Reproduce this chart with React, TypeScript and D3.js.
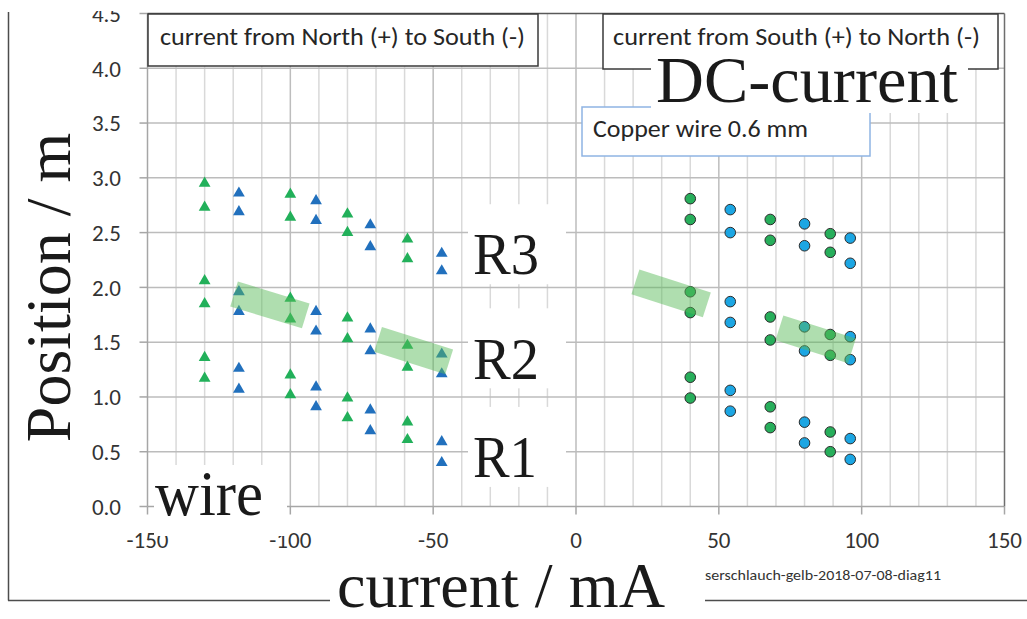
import React from "react";
import * as d3 from "d3";

// ---------- data ----------
const xTicks = [-150, -100, -50, 0, 50, 100, 150];
const yTicks = [0, 0.5, 1, 1.5, 2, 2.5, 3, 3.5, 4, 4.5];

// current from North (+) to South (-): triangles
const nsGreenCurrent = [-130, -100, -80, -59];
const nsGreenPos = [
  [2.95, 2.73, 2.06, 1.85, 1.36, 1.17],
  [2.85, 2.64, 1.9, 1.71, 1.2, 1.02],
  [2.67, 2.5, 1.72, 1.53, 0.99, 0.81],
  [2.44, 2.26, 1.47, 1.27, 0.77, 0.61],
];
const nsBlueCurrent = [-118, -91, -72, -47];
const nsBluePos = [
  [2.86, 2.69, 1.96, 1.78, 1.26, 1.07],
  [2.79, 2.61, 1.78, 1.6, 1.09, 0.91],
  [2.57, 2.37, 1.62, 1.42, 0.88, 0.69],
  [2.31, 2.15, 1.39, 1.21, 0.59, 0.4],
];

// current from South (+) to North (-): circles
const snGreenCurrent = [40, 68, 89];
const snGreenPos = [
  [2.81, 2.62, 1.96, 1.77, 1.18, 0.99],
  [2.62, 2.43, 1.73, 1.52, 0.91, 0.72],
  [2.49, 2.32, 1.57, 1.38, 0.68, 0.5],
];
const snBlueCurrent = [54, 80, 96];
const snBluePos = [
  [2.71, 2.5, 1.87, 1.68, 1.06, 0.87],
  [2.58, 2.38, 1.64, 1.42, 0.77, 0.58],
  [2.45, 2.22, 1.55, 1.34, 0.62, 0.43],
];

// highlighted bands (start / end in data units)
const bandStart = [
  [-119.7, 1.94],
  [-69.3, 1.525],
  [20.8, 2.05],
  [71.2, 1.63],
];
const bandEnd = [
  [-94.6, 1.74],
  [-44.4, 1.32],
  [45.8, 1.84],
  [96.6, 1.42],
];

const ringLabels = ["R3", "R2", "R1"];
const ringLabelPos = [2.12, 1.17, 0.27];

// ---------- helpers ----------
const SANS = "Carlito, Lato, 'Open Sans', sans-serif";
const SERIF = "'Liberation Serif', 'Times New Roman', serif";

function flatten(xs: number[], ys: number[][]) {
  const out: { x: number; y: number }[] = [];
  xs.forEach((x, i) => ys[i].forEach((y) => out.push({ x, y })));
  return out;
}

export default function App() {
  const W = 1027;
  const H = 619;
  const x = d3.scaleLinear().domain([-150, 150]).range([147.5, 1004.5]);
  const y = d3.scaleLinear().domain([0, 4.5]).range([506.5, 13.5]);

  const minorX = d3.range(-140, 150, 10);
  const tri = d3.symbol().type(d3.symbolTriangle).size(60)();

  const nsGreen = flatten(nsGreenCurrent, nsGreenPos);
  const nsBlue = flatten(nsBlueCurrent, nsBluePos);
  const snGreen = flatten(snGreenCurrent, snGreenPos);
  const snBlue = flatten(snBlueCurrent, snBluePos);

  const bands = bandStart.map((s, i) => {
    const e = bandEnd[i];
    const p1 = [x(s[0]), y(s[1])];
    const p2 = [x(e[0]), y(e[1])];
    const dx = p2[0] - p1[0];
    const dy = p2[1] - p1[1];
    const L = Math.hypot(dx, dy);
    const nx = (-dy / L) * 13;
    const ny = (dx / L) * 13;
    return [
      [p1[0] + nx, p1[1] + ny],
      [p2[0] + nx, p2[1] + ny],
      [p2[0] - nx, p2[1] - ny],
      [p1[0] - nx, p1[1] - ny],
    ]
      .map((p) => p.join(","))
      .join(" ");
  });

  const x0 = x(-150);
  const x1 = x(150);
  const yb = y(0);
  const yt = y(4.5);

  return (
    <svg
      width={W}
      height={H}
      style={{ position: "absolute", left: 0, top: 0, background: "#fff" }}
    >
      <rect x={0} y={0} width={W} height={H} fill="#fff" />

      {/* vertical grid */}
      {minorX.map((v) => (
        <line
          key={"vx" + v}
          x1={x(v)}
          x2={x(v)}
          y1={yt}
          y2={yb}
          stroke={v % 50 === 0 ? "#bdbdbd" : "#d9d9d9"}
          strokeWidth={1.5}
        />
      ))}
      {/* horizontal grid */}
      {yTicks
        .filter((v) => v > 0 && v < 4.5)
        .map((v) => (
          <line
            key={"hy" + v}
            x1={x0}
            x2={x1}
            y1={y(v)}
            y2={y(v)}
            stroke="#bcbcbc"
            strokeWidth={1.5}
          />
        ))}

      {/* axes / border */}
      <line x1={x0} x2={x1} y1={yb} y2={yb} stroke="#a6a6a6" strokeWidth={1.5} />
      <line x1={x0} x2={x0} y1={yt} y2={yb} stroke="#a6a6a6" strokeWidth={1.5} />
      <line x1={x0} x2={x1} y1={yt} y2={yt} stroke="#595959" strokeWidth={1.5} />
      <line x1={x1} x2={x1} y1={yt} y2={yb} stroke="#6e6e6e" strokeWidth={1.5} />

      {xTicks.map((v) => (
        <line key={"xt" + v} x1={x(v)} x2={x(v)} y1={yb} y2={yb + 8} stroke="#a6a6a6" strokeWidth={1.5} />
      ))}
      {yTicks.map((v) => (
        <line key={"yt" + v} x1={x0 - 8} x2={x0} y1={y(v)} y2={y(v)} stroke="#a6a6a6" strokeWidth={1.5} />
      ))}

      {/* tick labels */}
      {yTicks.map((v) => (
        <text
          key={"yl" + v}
          x={121}
          y={y(v)}
          dy="0.36em"
          textAnchor="end"
          fontFamily={SANS}
          fontSize={23}
          fill="#333"
        >
          {v.toFixed(1)}
        </text>
      ))}
      {xTicks.map((v) => (
        <text
          key={"xl" + v}
          x={x(v)}
          y={548}
          textAnchor="middle"
          fontFamily={SANS}
          fontSize={23}
          fill="#333"
        >
          {v}
        </text>
      ))}

      {/* markers */}
      {nsBlue.map((d, i) => (
        <path key={"nb" + i} d={tri} transform={`translate(${x(d.x)},${y(d.y)})`} fill="#2170bd" />
      ))}
      {nsGreen.map((d, i) => (
        <path key={"ng" + i} d={tri} transform={`translate(${x(d.x)},${y(d.y)})`} fill="#22b05a" />
      ))}
      {snGreen.map((d, i) => (
        <circle key={"sg" + i} cx={x(d.x)} cy={y(d.y)} r={5.3} fill="#27ae5b" stroke="#2b2b2b" strokeWidth={1} />
      ))}
      {snBlue.map((d, i) => (
        <circle key={"sb" + i} cx={x(d.x)} cy={y(d.y)} r={5.3} fill="#1ca6e3" stroke="#2b2b2b" strokeWidth={1} />
      ))}

      {/* bands */}
      {bands.map((pts, i) => (
        <polygon key={"band" + i} points={pts} fill="rgb(88,186,88)" fillOpacity={0.48} />
      ))}

      {/* boxes */}
      <rect x={148} y={14} width={390} height={52} fill="#fff" stroke="#3a3a3a" strokeWidth={1.5} />
      <text x={160} y={45} fontFamily={SANS} fontSize={25} fill="#262626" textLength={365} lengthAdjust="spacingAndGlyphs">
        current from North (+) to South (-)
      </text>

      <rect x={603} y={14} width={395} height={55} fill="#fff" stroke="#3a3a3a" strokeWidth={1.5} />
      <text x={613} y={45} fontFamily={SANS} fontSize={25} fill="#262626" textLength={367} lengthAdjust="spacingAndGlyphs">
        current from South (+) to North (-)
      </text>

      <rect x={582} y={107} width={288} height={49} fill="#fff" stroke="#8fb4e3" strokeWidth={1.5} />
      <text x={593} y={137} fontFamily={SANS} fontSize={25} fill="#262626" textLength={215} lengthAdjust="spacingAndGlyphs">
        Copper wire 0.6 mm
      </text>

      <rect x={651} y={67} width={317} height={46} fill="#fff" />
      <text x={656} y={101.5} fontFamily={SERIF} fontSize={66} fill="#1a1a1a" textLength={302} lengthAdjust="spacingAndGlyphs">
        DC-current
      </text>

      {/* ring labels */}
      {ringLabels.map((lab, i) => {
        const by = y(ringLabelPos[i]);
        return <rect key={"rb" + lab} x={468} y={by - 70} width={98} height={80} fill="#fff" />;
      })}
      <text x={473} y={273.5} fontFamily={SERIF} fontSize={60} fill="#1a1a1a" textLength={66} lengthAdjust="spacingAndGlyphs">{ringLabels[0]}</text>
      <text x={473} y={378.5} fontFamily={SERIF} fontSize={60} fill="#1a1a1a" textLength={66} lengthAdjust="spacingAndGlyphs">{ringLabels[1]}</text>
      <text x={473} y={477} fontFamily={SERIF} fontSize={60} fill="#1a1a1a" textLength={64} lengthAdjust="spacingAndGlyphs">{ringLabels[2]}</text>

      {/* wire label */}
      <rect x={154} y={465} width={133} height={71} fill="#fff" />
      <text x={155} y={515} fontFamily={SERIF} fontSize={64} fill="#1a1a1a" textLength={108} lengthAdjust="spacingAndGlyphs">
        wire
      </text>

      {/* outer frame */}
      <line x1={8.5} x2={8.5} y1={12} y2={600.5} stroke="#4d4d4d" strokeWidth={1.5} />
      <line x1={8} x2={W} y1={600.5} y2={600.5} stroke="#4d4d4d" strokeWidth={1.5} />
      <rect x={330} y={560} width={375} height={59} fill="#fff" />

      <text x={337} y={606.5} fontFamily={SERIF} fontSize={64} fill="#1a1a1a" textLength={328} lengthAdjust="spacingAndGlyphs">
        current / mA
      </text>
      <text
        transform={`translate(70,287.5) rotate(-90)`}
        textAnchor="middle"
        fontFamily={SERIF}
        fontSize={64}
        fill="#1a1a1a"
      >
        Position / m
      </text>
      <text x={705} y={580} fontFamily={SANS} fontSize={15} fill="#333" textLength={236} lengthAdjust="spacingAndGlyphs">
        serschlauch-gelb-2018-07-08-diag11
      </text>

      {/* top cut */}
      <rect x={0} y={0} width={W} height={11} fill="#fff" />
    </svg>
  );
}
